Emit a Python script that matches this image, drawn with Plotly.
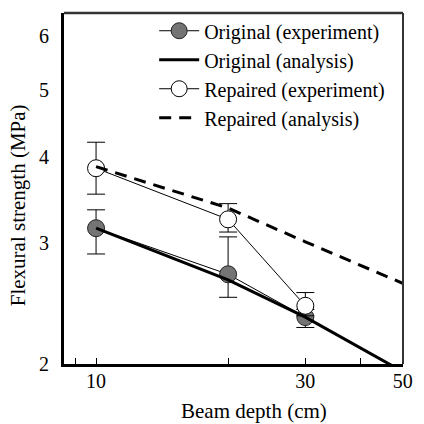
import plotly.graph_objects as go

depth = [10, 20, 30]
orig_exp = [3.15, 2.70, 2.34]
orig_err_plus = [0.20, 0.36, 0.06]
orig_err_minus = [0.26, 0.20, 0.08]
rep_exp = [3.85, 3.245, 2.43]
rep_err_plus = [0.35, 0.175, 0.11]
rep_err_minus = [0.32, 0.135, 0.08]

ana_depth = [10, 20, 30, 40, 50]
orig_ana = [3.15, 2.65, 2.34, 2.11, 1.95]
rep_ana = [3.87, 3.37, 3.01, 2.78, 2.62]

xtick_vals = [9, 10, 20, 30, 40, 50]
xtick_text = ["", "10", "", "30", "", "50"]
ytick_vals = [2, 3, 4, 5, 6]

FONT = "Liberation Serif"

fig = go.Figure()
fig.add_trace(go.Scatter(
    x=depth, y=orig_exp, name="Original (experiment)", mode="lines+markers",
    line=dict(color="black", width=1),
    marker=dict(size=17, color="#747474", line=dict(color="#222", width=1)),
    error_y=dict(type="data", symmetric=False, array=orig_err_plus, arrayminus=orig_err_minus,
                 color="black", thickness=1, width=9),
))
fig.add_trace(go.Scatter(
    x=ana_depth, y=orig_ana, name="Original (analysis)", mode="lines",
    line=dict(color="black", width=3),
))
fig.add_trace(go.Scatter(
    x=depth, y=rep_exp, name="Repaired (experiment)", mode="lines+markers",
    line=dict(color="black", width=1),
    marker=dict(size=17, color="white", line=dict(color="black", width=1)),
    error_y=dict(type="data", symmetric=False, array=rep_err_plus, arrayminus=rep_err_minus,
                 color="black", thickness=1, width=9),
))
fig.add_trace(go.Scatter(
    x=ana_depth, y=rep_ana, name="Repaired (analysis)", mode="lines",
    line=dict(color="black", width=3, dash="12px,8px"),
))

fig.add_shape(type="line", xref="paper", yref="paper", x0=0, x1=1, y0=1, y1=1,
              line=dict(color="#333", width=2.5))
fig.add_shape(type="line", xref="paper", yref="paper", x0=1, x1=1, y0=0, y1=1,
              line=dict(color="#333", width=2))

fig.add_annotation(text="Beam depth (cm)", xref="paper", yref="paper",
                   x=0.559, y=-0.134, xanchor="center", yanchor="middle", showarrow=False,
                   font=dict(family=FONT, size=21, color="black"))
fig.add_annotation(text="Flexural strength (MPa)", xref="paper", yref="paper",
                   x=-0.135, y=0.453, xanchor="center", yanchor="middle", showarrow=False,
                   textangle=-90, font=dict(family=FONT, size=21, color="black"))

fig.update_layout(
    width=424, height=424,
    margin=dict(l=64, r=11, t=13, b=60),
    paper_bgcolor="white", plot_bgcolor="white",
    font=dict(family=FONT, size=20, color="black"),
    showlegend=True,
    legend=dict(x=0.266, y=1.005, xanchor="left", yanchor="top",
                bgcolor="rgba(0,0,0,0)", font=dict(family=FONT, size=20),
                tracegroupgap=0, itemwidth=40),
    xaxis=dict(type="log", range=[0.9269, 1.6998], tickvals=xtick_vals, ticktext=xtick_text,
               ticks="inside", ticklen=6, tickcolor="black", tickwidth=1,
               showgrid=False, zeroline=False, showline=True, linecolor="black", linewidth=3,
               ticklabelstandoff=-3,
               tickfont=dict(family=FONT, size=20)),
    yaxis=dict(type="log", range=[0.30103, 0.811], tickvals=ytick_vals,
               ticks="", showgrid=False, zeroline=False, showline=True, linecolor="black", linewidth=3,
               ticklabelstandoff=8,
               tickfont=dict(family=FONT, size=20)),
)

fig.write_html("out.html", config={"displayModeBar": False},
               post_script="document.body.style.margin='0';document.body.style.padding='0';")
